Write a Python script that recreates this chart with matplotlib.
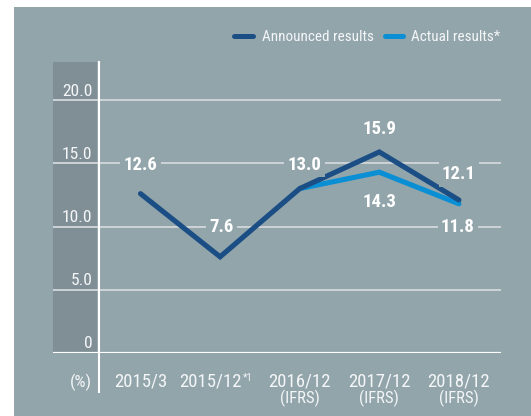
import matplotlib
matplotlib.use("Agg")
import matplotlib.pyplot as plt
from matplotlib import font_manager
from matplotlib.patches import Rectangle
from matplotlib.lines import Line2D
from matplotlib.transforms import ScaledTranslation

# ---- data ----
categories = ["2015/3", "2015/12", "2016/12", "2017/12", "2018/12"]
cat_notes = ["", "*1", "", "", ""]
cat_sub = ["", "", "(IFRS)", "(IFRS)", "(IFRS)"]
announced = [12.6, 7.6, 13.0, 15.9, 12.1]
actual_idx = [2, 3, 4]
actual = [13.0, 14.3, 11.8]
yticks = [0, 5, 10, 15, 20]
ytick_labels = ["0", "5.0", "10.0", "15.0", "20.0"]
legend_labels = ["Announced results", "Actual results*"]

# ---- style ----
W, H, DPI = 531, 416, 100
PANEL = "#92A5AB"
BAND = "#808F96"
DARK = "#1B4E84"
LIGHT = "#0A8FD4"
GRID = "#CDD3D6"
TXT = "#F4F6F7"

available = {f.name for f in font_manager.fontManager.ttflist}
narrow = None
for cand in ["Liberation Sans Narrow", "Roboto Condensed", "Open Sans Condensed",
             "DejaVu Sans Condensed", "Arial Narrow"]:
    if cand in available:
        narrow = cand
        break
if narrow:
    plt.rcParams['font.family'] = [narrow, 'DejaVu Sans']
    FS = dict(tick=12.6, cat=13.5, sub=12.0, val=13.5, leg=10.9, note=7.5)
else:
    plt.rcParams['font.family'] = ['Liberation Sans', 'DejaVu Sans']
    FS = dict(tick=11.0, cat=11.8, sub=9.6, val=12.3, leg=10.0, note=6.5)

fig = plt.figure(figsize=(W / DPI, H / DPI), dpi=DPI, facecolor="white")
bg = Rectangle((14 / W, 0), 1, (H - 7) / H, transform=fig.transFigure,
               facecolor=PANEL, edgecolor="none", zorder=-10)
fig.patches.append(bg)

ax_l, ax_r, ax_t, ax_b = 53, 501, 62, 352.8
ax = fig.add_axes([ax_l / W, (H - ax_b) / H, (ax_r - ax_l) / W, (ax_b - ax_t) / H])
ax.set_zorder(1)
ax.set_facecolor("none")
for s in ax.spines.values():
    s.set_visible(False)
ax.set_xticks([])
ax.set_yticks([])

px_per_cat = 79.6
x0_px = 140.5
ax.set_xlim((ax_l - x0_px) / px_per_cat, (ax_r - x0_px) / px_per_cat)
px_per_unit = (352.8 - 100.2) / 20
ax.set_ylim(0, (ax_b - ax_t) / px_per_unit)


def off(dx, dy):
    return ScaledTranslation(dx / DPI, -dy / DPI, fig.dpi_scale_trans)


# band + vertical line
ax.add_patch(Rectangle((0, 0), (97.3 - ax_l) / (ax_r - ax_l), 1, transform=ax.transAxes,
                       facecolor=BAND, edgecolor="none", zorder=0))
ax.add_line(Line2D([(98.8 - ax_l) / (ax_r - ax_l)] * 2, [-(392 - ax_b) / (ax_b - ax_t), 1],
                   transform=ax.transAxes, color="white", lw=1.5, clip_on=False, zorder=3))

# gridlines + tick labels
for v, lab in zip(yticks, ytick_labels):
    if v == 0:
        ax.axhline(v, color="white", lw=1.6, zorder=2)
    else:
        ax.axhline(v, color=GRID, lw=1.4, zorder=1)
    ax.text(0, v, lab, transform=ax.get_yaxis_transform() + off(92.3 - ax_l, -4.6),
            ha="right", va="baseline", color=TXT, fontsize=FS['tick'], zorder=4)
ax.text(0, 0, "(%)", transform=ax.get_yaxis_transform() + off(92.3 - ax_l, 34.5),
        ha="right", va="baseline", color=TXT, fontsize=FS['tick'])

# lines
xs = list(range(len(categories)))
ax.plot(actual_idx, actual, color=LIGHT, lw=3.7, solid_capstyle="round",
        solid_joinstyle="miter", zorder=5)
ax.plot(xs, announced, color=DARK, lw=3.7, solid_capstyle="round",
        solid_joinstyle="miter", zorder=6)

# value labels (pixel offsets of label centre from point)
bbox = dict(boxstyle="square,pad=0.18", facecolor=PANEL, edgecolor="none")
ann_off = [(0, -30), (1.7, -31), (5, -25), (0, -24.7), (0, -27)]
act_off = [None, (0, 28.8), (-1, 22)]
cap = 6.3
for i, v in enumerate(announced):
    dx, dy = ann_off[i]
    ax.text(i, v, f"{v:.1f}", transform=ax.transData + off(dx, dy + cap), ha="center",
            va="baseline", color="white", fontsize=FS['val'], fontweight="bold", bbox=bbox, zorder=7)
for k, (i, v) in enumerate(zip(actual_idx, actual)):
    if act_off[k] is None:
        continue
    dx, dy = act_off[k]
    ax.text(i, v, f"{v:.1f}", transform=ax.transData + off(dx, dy + cap), ha="center",
            va="baseline", color="white", fontsize=FS['val'], fontweight="bold", bbox=bbox, zorder=7)

# category labels
xt = ax.get_xaxis_transform()
for i, c in enumerate(categories):
    if cat_notes[i]:
        ax.text(i, 0, c, transform=xt + off(21.5, 34), ha="right", va="baseline",
                color=TXT, fontsize=FS['cat'])
        ax.text(i, 0, cat_notes[i], transform=xt + off(22.5, 28), ha="left", va="baseline",
                color=TXT, fontsize=FS['note'])
    else:
        ax.text(i, 0, c, transform=xt + off(0, 34), ha="center", va="baseline",
                color=TXT, fontsize=FS['cat'])
    if cat_sub[i]:
        ax.text(i, 0, cat_sub[i], transform=xt + off(0, 50.5), ha="center", va="baseline",
                color=TXT, fontsize=FS['sub'])

# legend
ly = 35.5
for (x1, x2, tx), col, lab in zip([(234, 252.5, 261.5), (384.5, 402.5, 411)], [DARK, LIGHT], legend_labels):
    fig.add_artist(Line2D([x1 / W, x2 / W], [(H - ly) / H] * 2, transform=fig.transFigure,
                          color=col, lw=3.6, solid_capstyle="round"))
    fig.text(tx / W, (H - ly - 5.5) / H, lab, ha="left", va="baseline", color=TXT, fontsize=FS['leg'])

fig.savefig("out.png", dpi=DPI, facecolor="white")
